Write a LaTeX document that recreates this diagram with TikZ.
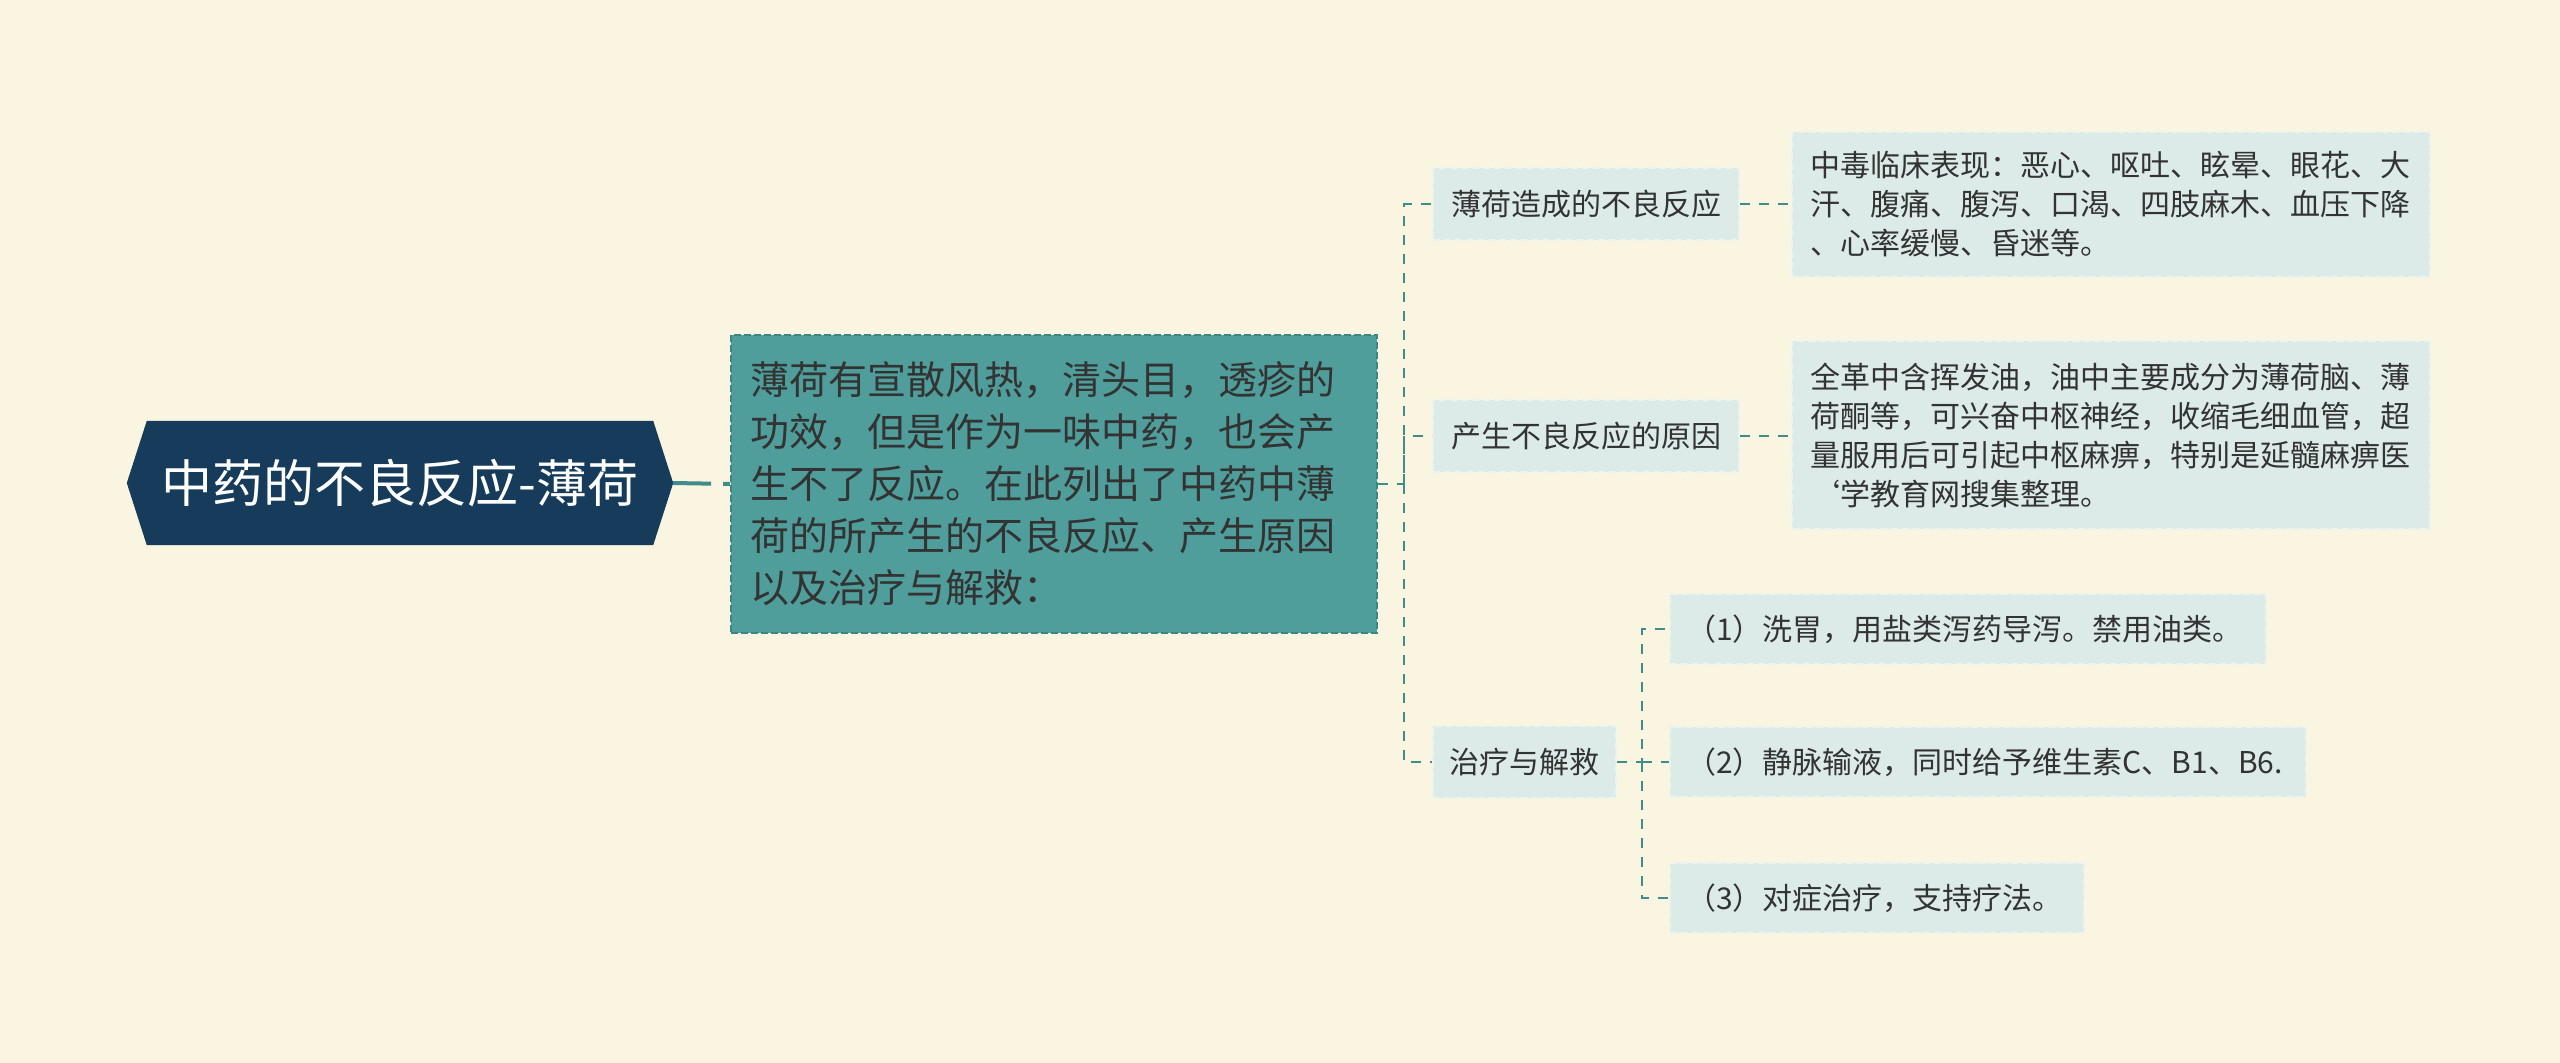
\documentclass[tikz,border=0pt]{standalone}
\usepackage{fontspec}
\setmainfont{Noto Sans CJK SC}
\usetikzlibrary{backgrounds,calc}
\definecolor{bgc}{HTML}{FAF5E0}
\definecolor{rootc}{HTML}{173B5B}
\definecolor{descc}{HTML}{4F9E9B}
\definecolor{descb}{HTML}{3A8784}
\definecolor{lightc}{HTML}{DCEBE8}
\definecolor{lightb}{HTML}{EDF3EE}
\definecolor{connc}{HTML}{3F8C8A}
\definecolor{txtc}{HTML}{333333}
\tikzset{
  conn/.style={draw=connc, line width=2.6pt, dash pattern=on 10pt off 9pt},
  descbox/.style={fill=descc, draw=descb, line width=1.5pt, dash pattern=on 7pt off 3pt,
    inner xsep=20pt, inner ysep=0pt, align=left, text=txtc,
    font=\fontsize{39}{52}\selectfont},
  lbox/.style={fill=lightc, draw=lightb, line width=2pt, dash pattern=on 7pt off 4pt,
    inner xsep=18pt, inner ysep=0pt, align=left, text=txtc,
    font=\fontsize{30}{39}\selectfont, anchor=west},
}
\begin{document}
\begin{tikzpicture}[x=1pt,y=-1pt]
\useasboundingbox (0,0) rectangle (2560,1063);
% root
\node[minimum width=506pt, minimum height=124pt, inner sep=0pt, text=white,
  font=\fontsize{51}{60}\selectfont] (root) at (400,483) {中药的不良反应-薄荷};
\begin{scope}[on background layer]
\fill[bgc] (0,0) rectangle (2560,1063);
\fill[rootc] (root.north west) -- (root.north east) -- ([xshift=20pt]root.east)
  -- (root.south east) -- (root.south west) -- ([xshift=-20pt]root.west) -- cycle;
\end{scope}
% description
\node[descbox, anchor=west, text width=606pt, minimum height=298pt] (desc) at (730,484)
 {薄荷有宣散风热，清头目，透疹的\\功效，但是作为一味中药，也会产\\生不了反应。在此列出了中药中薄\\荷的所产生的不良反应、产生原因\\以及治疗与解救：};
% branches
\node[lbox, text width=270pt, minimum height=72pt] (b1) at (1432,204) {薄荷造成的不良反应};
\node[lbox, text width=270pt, minimum height=72pt] (b2) at (1432,436) {产生不良反应的原因};
\node[lbox, text width=150pt, inner xsep=16.5pt, minimum height=72pt] (b3) at (1432,762) {治疗与解救};
% leaves
\node[lbox, text width=602pt, minimum height=145pt] (l1) at (1791,204)
 {中毒临床表现：恶心、呕吐、眩晕、眼花、大\\汗、腹痛、腹泻、口渴、四肢麻木、血压下降\\、心率缓慢、昏迷等。};
\node[lbox, text width=602pt, minimum height=188pt] (l2) at (1791,435)
 {全革中含挥发油，油中主要成分为薄荷脑、薄\\荷酮等，可兴奋中枢神经，收缩毛细血管，超\\量服用后可引起中枢麻痹，特别是延髓麻痹医\\\symbol{96}学教育网搜集整理。};
\node[lbox, text width=564pt, inner xsep=16pt, minimum height=70pt] (s1) at (1669,629) {（1）洗胃，用盐类泻药导泻。禁用油类。};
\node[lbox, text width=604pt, inner xsep=16pt, minimum height=70pt] (s2) at (1669,762) {（2）静脉输液，同时给予维生素C、B1、B6.};
\node[lbox, text width=382pt, inner xsep=16pt, minimum height=70pt] (s3) at (1669,898) {（3）对症治疗，支持疗法。};
% connectors
\coordinate (trunk) at (1404,484);
\coordinate (tr2) at (1642,762);
\draw[conn, line width=4pt, dash pattern=on 38pt off 12pt] ([xshift=20pt]root.east) -- (desc.west);
\draw[conn] (desc.east) -- (trunk) |- (b1.west);
\draw[conn] (trunk) |- (b2.west);
\draw[conn] (trunk) |- (b3.west);
\draw[conn] (b1.east) -- (l1.west |- b1.east);
\draw[conn] (b2.east) -- (l2.west |- b2.east);
\draw[conn] (b3.east) -- (tr2) |- (s1.west);
\draw[conn] (tr2) -- (s2.west);
\draw[conn] (tr2) |- (s3.west);
\end{tikzpicture}
\end{document}
